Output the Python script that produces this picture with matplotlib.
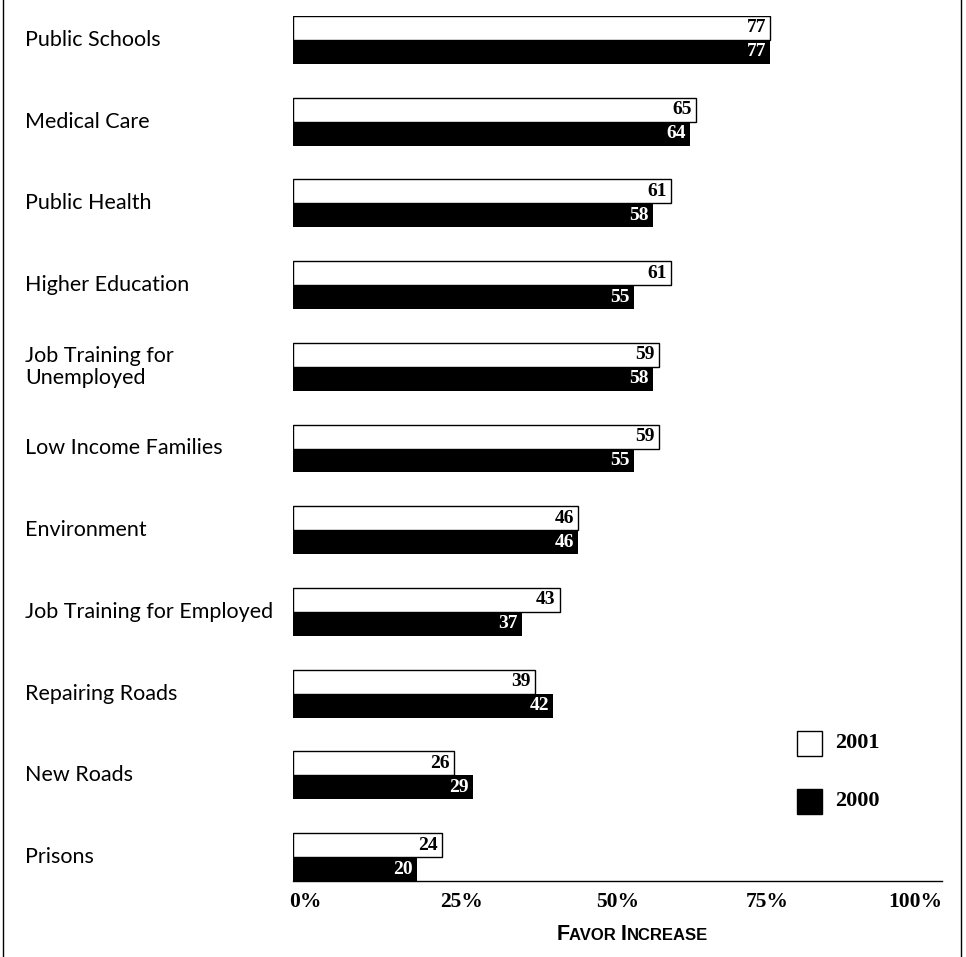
import matplotlib
matplotlib.use("Agg")
import matplotlib.pyplot as plt
import matplotlib.transforms as mtransforms
from matplotlib.patches import Rectangle
from matplotlib.lines import Line2D
from matplotlib.offsetbox import TextArea, HPacker, AnchoredOffsetbox

categories = ["Public Schools", "Medical Care", "Public Health", "Higher Education",
              "Job Training for\nUnemployed", "Low Income Families", "Environment",
              "Job Training for Employed", "Repairing Roads", "New Roads", "Prisons"]
v2001 = [77, 65, 61, 61, 59, 59, 46, 43, 39, 26, 24]
v2000 = [77, 64, 58, 55, 58, 55, 46, 37, 42, 29, 20]
ticks = [0, 25, 50, 75, 100]
tick_labels = ["0%", "25%", "50%", "75%", "100%"]
series_names = ["2001", "2000"]
series_colors = ["white", "black"]

W, H = 966, 957
fig = plt.figure(figsize=(W / 100, H / 100), dpi=100)
ax = fig.add_axes([293 / W, (H - 881) / H, 649 / W, 865 / H])

bh = 0.293
ys = list(range(len(categories)))
ax.barh([y - bh / 2 for y in ys], v2001, height=bh, color="white", edgecolor="black", linewidth=1.0)
ax.barh([y + bh / 2 for y in ys], v2000, height=bh, color="black", edgecolor="black", linewidth=0)

serif = "Liberation Serif"
for y, a, b in zip(ys, v2001, v2000):
    ax.annotate(str(a), (a, y - bh / 2), xytext=(-3, 0), textcoords="offset points",
                ha="right", va="center", fontsize=14, fontweight="bold", family=serif, color="black")
    ax.annotate(str(b), (b, y + bh / 2), xytext=(-3, 0), textcoords="offset points",
                ha="right", va="center", fontsize=14, fontweight="bold", family=serif, color="white")

ax.set_xlim(0, 104.7)
ax.set_ylim(len(categories) - 1 + bh, -bh)
for s in ["top", "right", "left"]:
    ax.spines[s].set_visible(False)
ax.spines["bottom"].set_linewidth(1.0)
ax.set_yticks([])
ax.set_xticks(ticks)
ax.set_xticklabels(tick_labels, fontsize=15.5, fontweight="bold", family=serif)
ax.tick_params(axis="x", length=0, pad=8)
label_shift_px = [12, 14, 15, 9, 2]
for lbl, dx in zip(ax.get_xticklabels(), label_shift_px):
    lbl.set_transform(lbl.get_transform() + mtransforms.ScaledTranslation(dx / 100, 0, fig.dpi_scale_trans))

# category labels
blend = mtransforms.blended_transform_factory(fig.transFigure, ax.transData)
for y, c in zip(ys, categories):
    ax.text(25 / W, y, c, transform=blend, ha="left", va="center",
            fontsize=15.5, family="Lato", linespacing=1.1)

# legend (drawn manually)
leg_tops = [731, 789]
for top, name, col in zip(leg_tops, series_names, series_colors):
    fig.add_artist(Rectangle((797 / W, 1 - (top + 25) / H), 25 / W, 25 / H, transform=fig.transFigure,
                             facecolor=col, edgecolor="black", linewidth=1.0))
    fig.text(835 / W, 1 - (top + 12.5) / H, name, ha="left", va="center",
             fontsize=16, fontweight="bold", family=serif)

# small-caps axis title
parts = [("F", 15.5), ("AVOR ", 12), ("I", 15.5), ("NCREASE", 12)]
areas = [TextArea(t, textprops=dict(fontsize=s, fontweight="bold", family="Liberation Sans")) for t, s in parts]
pack = HPacker(children=areas, align="baseline", pad=0, sep=0)
ab = AnchoredOffsetbox(loc="center", child=pack, frameon=False, pad=0, borderpad=0,
                       bbox_to_anchor=(632 / W, 1 - 935 / H), bbox_transform=fig.transFigure)
fig.add_artist(ab)

# frame side lines
fig.add_artist(Line2D([2.5 / W, 2.5 / W], [0, 1], color="black", linewidth=1.0, transform=fig.transFigure))
fig.add_artist(Line2D([960.5 / W, 960.5 / W], [0, 1], color="black", linewidth=1.0, transform=fig.transFigure))

fig.savefig("out.png", dpi=100)
